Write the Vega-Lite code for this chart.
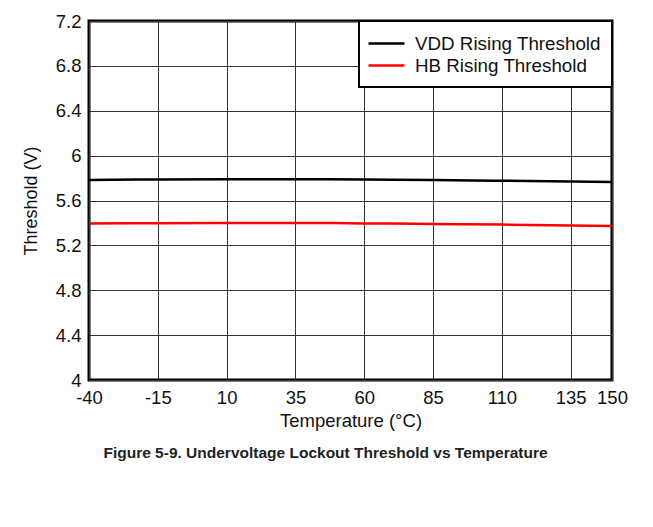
{
  "$schema": "https://vega.github.io/schema/vega-lite/v6.json",
  "autosize": "none",
  "width": 523,
  "height": 359,
  "padding": {"left": 89, "top": 21, "right": 41, "bottom": 147},
  "background": "white",
  "config": {
    "font": "Liberation Sans",
    "view": {"stroke": "black", "strokeWidth": 3},
    "legend": {"strokeWidth": 2},
    "axis": {"domain": false, "ticks": false, "grid": true, "gridColor": "#333", "gridWidth": 1, "gridOpacity": 1,
             "labelFont": "Liberation Sans", "labelFontSize": 18.5, "labelColor": "#111", "labelOverlap": false, "labelFlush": false,
             "titleFont": "Liberation Sans", "titleFontSize": 18.5, "titleFontWeight": "normal", "titleColor": "#111"}
  },
  "title": {"text": "Figure 5-9. Undervoltage Lockout Threshold vs Temperature", "orient": "bottom", "anchor": "middle", "font": "Liberation Sans", "fontSize": 15.5, "fontWeight": "bold", "color": "#222", "offset": 16, "dx": -25},
  "data": {"values": [
    {"temp": -40, "series": "VDD Rising Threshold", "v": 5.783},
    {"temp": -15, "series": "VDD Rising Threshold", "v": 5.788},
    {"temp": 10, "series": "VDD Rising Threshold", "v": 5.790},
    {"temp": 35, "series": "VDD Rising Threshold", "v": 5.790},
    {"temp": 60, "series": "VDD Rising Threshold", "v": 5.787},
    {"temp": 85, "series": "VDD Rising Threshold", "v": 5.783},
    {"temp": 110, "series": "VDD Rising Threshold", "v": 5.776},
    {"temp": 135, "series": "VDD Rising Threshold", "v": 5.770},
    {"temp": 150, "series": "VDD Rising Threshold", "v": 5.766},
    {"temp": -40, "series": "HB Rising Threshold", "v": 5.395},
    {"temp": -15, "series": "HB Rising Threshold", "v": 5.398},
    {"temp": 10, "series": "HB Rising Threshold", "v": 5.400},
    {"temp": 35, "series": "HB Rising Threshold", "v": 5.400},
    {"temp": 60, "series": "HB Rising Threshold", "v": 5.396},
    {"temp": 85, "series": "HB Rising Threshold", "v": 5.391},
    {"temp": 110, "series": "HB Rising Threshold", "v": 5.385},
    {"temp": 135, "series": "HB Rising Threshold", "v": 5.378},
    {"temp": 150, "series": "HB Rising Threshold", "v": 5.373}
  ]},
  "mark": {"type": "line", "strokeWidth": 2.5, "interpolate": "monotone"},
  "encoding": {
    "x": {"field": "temp", "type": "quantitative", "scale": {"domain": [-40, 150], "nice": false, "zero": false},
          "axis": {"values": [-40, -15, 10, 35, 60, 85, 110, 135, 150], "title": "Temperature (°C)", "labelPadding": 8, "titlePadding": 5,
                   "labelExpr": "'' + datum.value"}},
    "y": {"field": "v", "type": "quantitative", "scale": {"domain": [4, 7.2], "nice": false, "zero": false},
          "axis": {"values": [4, 4.4, 4.8, 5.2, 5.6, 6, 6.4, 6.8, 7.2], "title": "Threshold (V)", "titleFontSize": 18, "labelPadding": 8, "titlePadding": 15,
                   "labelExpr": "datum.value == 6 ? '6' : datum.value == 4 ? '4' : format(datum.value, '.1f')"}},
    "color": {"field": "series", "type": "nominal",
              "scale": {"domain": ["VDD Rising Threshold", "HB Rising Threshold"], "range": ["black", "red"]},
              "legend": {"title": null, "orient": "top-right", "offset": 0, "symbolType": "M-1.3,0H2.3", "symbolSize": 400, "symbolStrokeWidth": 2.5,
                         "labelFont": "Liberation Sans", "labelFontSize": 18.8, "labelColor": "#111", "strokeColor": "black",
                         "fillColor": "white", "padding": 11, "rowPadding": 0, "labelOffset": 22, "labelLimit": 300}}
  }
}
